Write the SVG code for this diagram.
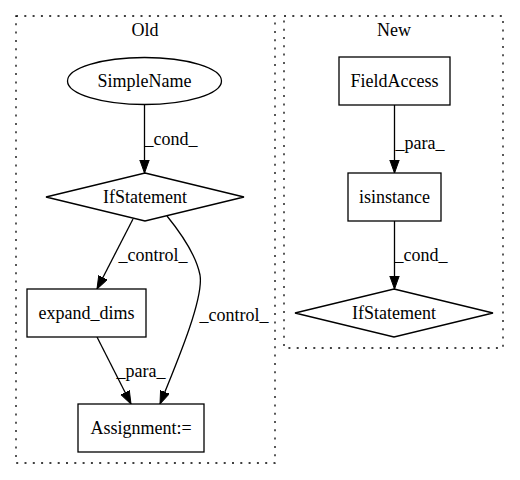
<svg xmlns="http://www.w3.org/2000/svg" width="520" height="480" viewBox="0 0 520 480">
<defs>
<style>
text{font-family:"Liberation Serif","Times New Roman",serif;font-size:18px;fill:#000;text-anchor:middle}
.cl{fill:none;stroke:#000;stroke-width:1.3;stroke-dasharray:2,6.3}
.nd{fill:#fff;stroke:#000;stroke-width:1.3}
.ed{fill:none;stroke:#000;stroke-width:1.3}
</style>
<marker id="ah" markerUnits="userSpaceOnUse" markerWidth="14" markerHeight="11" refX="13" refY="5" orient="auto">
<path d="M0,0.3 L13,5 L0,9.7 z" fill="#000" stroke="#000" stroke-width="1"/>
</marker>
</defs>
<rect width="520" height="480" fill="#fff"/>
<g id="cluster_old">
<rect class="cl" x="16" y="16" width="259" height="447"/>
<text x="145" y="36">Old</text>
</g>
<g id="cluster_new">
<rect class="cl" x="284" y="16" width="219" height="332"/>
<text x="394" y="36">New</text>
</g>
<g id="edges">
<path class="ed" d="M144.5,105 L144.5,173" marker-end="url(#ah)"/>
<text x="171" y="145">_cond_</text>
<path class="ed" d="M133,219 L97,289" marker-end="url(#ah)"/>
<text x="153" y="261">_control_</text>
<path class="ed" d="M167,216 C180,232 196,255 200,275 C204,298 178,360 160,404" marker-end="url(#ah)"/>
<text x="234" y="321">_control_</text>
<path class="ed" d="M97,337 L131,404" marker-end="url(#ah)"/>
<text x="141" y="377">_para_</text>
<path class="ed" d="M394.5,105 L394.5,173" marker-end="url(#ah)"/>
<text x="420" y="149">_para_</text>
<path class="ed" d="M394.5,221 L394.5,289" marker-end="url(#ah)"/>
<text x="421" y="261">_cond_</text>
</g>
<g id="n_simplename">
<ellipse class="nd" cx="144.5" cy="81" rx="77" ry="23.5"/>
<text x="144.5" y="87">SimpleName</text>
</g>
<g id="n_ifstatement_old">
<polygon class="nd" points="145,173 244,197 145,221 46,197"/>
<text x="145" y="203">IfStatement</text>
</g>
<g id="n_expand_dims">
<rect class="nd" x="27" y="289" width="119" height="48"/>
<text x="86.5" y="319">expand_dims</text>
</g>
<g id="n_assignment">
<rect class="nd" x="78" y="404" width="126" height="48"/>
<text x="141" y="434">Assignment:=</text>
</g>
<g id="n_fieldaccess">
<rect class="nd" x="339" y="57" width="111" height="48"/>
<text x="394.5" y="87">FieldAccess</text>
</g>
<g id="n_isinstance">
<rect class="nd" x="348" y="173" width="93" height="48"/>
<text x="394.5" y="203">isinstance</text>
</g>
<g id="n_ifstatement_new">
<polygon class="nd" points="394,289 493,313 394,337 295,313"/>
<text x="394" y="319">IfStatement</text>
</g>
</svg>
